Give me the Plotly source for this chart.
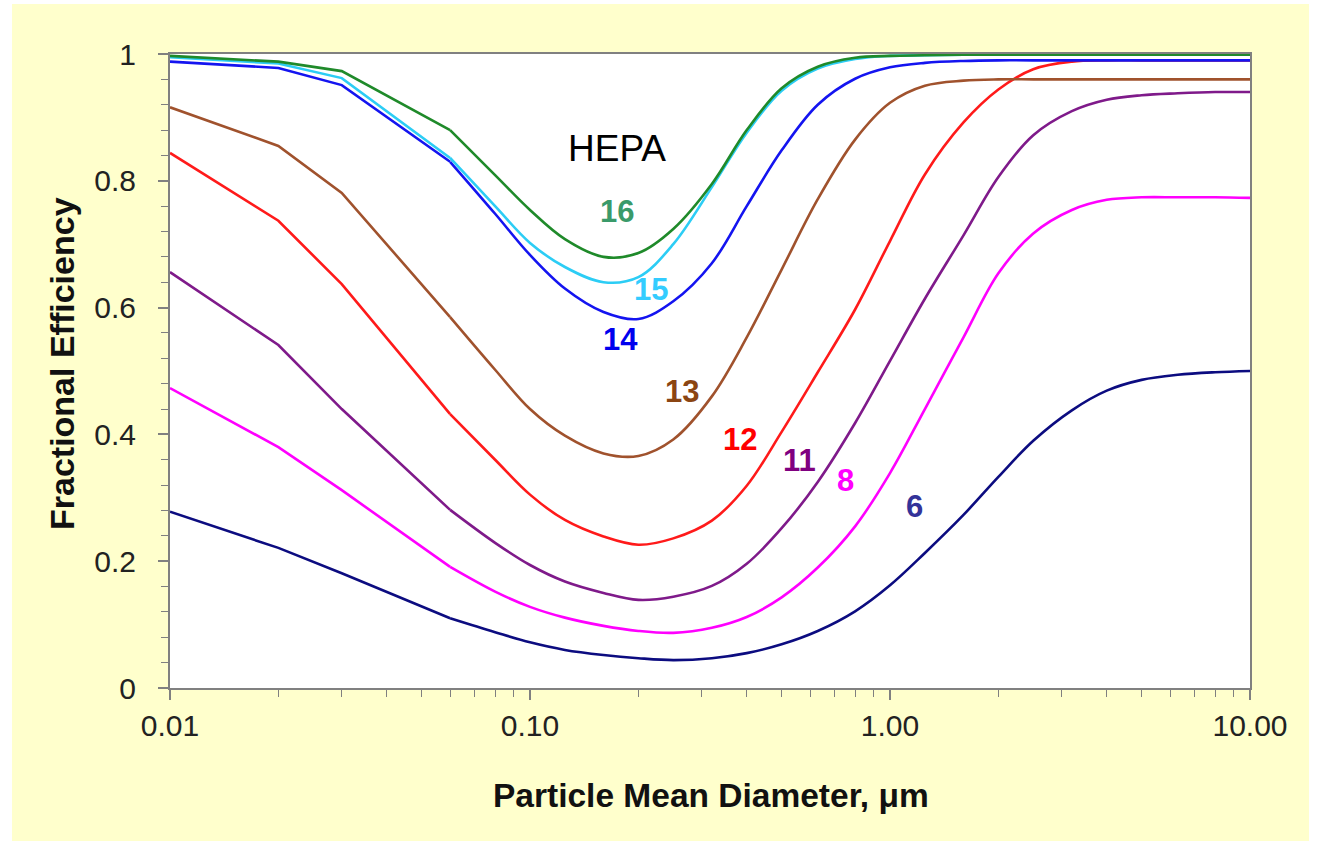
import plotly.graph_objects as go

# ---------------- data ----------------
diameter_um = [0.01, 0.02, 0.03, 0.06, 0.08, 0.1, 0.125, 0.16, 0.2, 0.25, 0.32, 0.4, 0.5,
               0.63, 0.8, 1.0, 1.25, 1.6, 2.0, 2.5, 3.2, 4.0, 5.0, 6.3, 8.0, 10.0]

eff_6 = [0.278, 0.221, 0.181, 0.110, 0.088, 0.072, 0.060, 0.052, 0.047, 0.044, 0.047, 0.055, 0.069,
         0.090, 0.121, 0.162, 0.213, 0.273, 0.333, 0.390, 0.438, 0.469, 0.486, 0.494, 0.498, 0.500]
eff_8 = [0.473, 0.380, 0.312, 0.191, 0.152, 0.128, 0.111, 0.098, 0.090, 0.087, 0.095, 0.112, 0.143,
         0.190, 0.255, 0.339, 0.440, 0.553, 0.654, 0.717, 0.754, 0.770, 0.774, 0.774, 0.774, 0.773]
eff_11 = [0.656, 0.541, 0.440, 0.281, 0.229, 0.194, 0.168, 0.150, 0.139, 0.144, 0.161, 0.196, 0.252,
          0.325, 0.418, 0.516, 0.614, 0.714, 0.806, 0.872, 0.910, 0.928, 0.935, 0.938, 0.940, 0.940]
eff_12 = [0.844, 0.737, 0.637, 0.432, 0.360, 0.305, 0.265, 0.239, 0.226, 0.236, 0.264, 0.319, 0.404,
          0.498, 0.597, 0.705, 0.810, 0.892, 0.944, 0.976, 0.988, 0.990, 0.990, 0.990, 0.990, 0.990]
eff_13 = [0.916, 0.855, 0.781, 0.585, 0.502, 0.440, 0.398, 0.370, 0.366, 0.392, 0.460, 0.553, 0.660,
          0.771, 0.865, 0.923, 0.950, 0.958, 0.960, 0.960, 0.960, 0.960, 0.960, 0.960, 0.960, 0.960]
eff_14 = [0.988, 0.978, 0.951, 0.830, 0.748, 0.683, 0.630, 0.593, 0.582, 0.610, 0.670, 0.760, 0.848,
          0.920, 0.961, 0.979, 0.986, 0.989, 0.990, 0.990, 0.990, 0.990, 0.990, 0.990, 0.990, 0.990]
eff_15 = [0.995, 0.985, 0.962, 0.836, 0.760, 0.702, 0.664, 0.640, 0.648, 0.700, 0.790, 0.876, 0.942,
          0.977, 0.992, 0.997, 0.998, 0.999, 0.999, 0.999, 0.999, 0.999, 0.999, 0.999, 0.999, 0.999]
eff_16 = [0.997, 0.988, 0.973, 0.880, 0.809, 0.754, 0.708, 0.680, 0.686, 0.724, 0.795, 0.880, 0.946,
          0.980, 0.994, 0.997, 0.998, 0.999, 0.999, 0.999, 0.999, 0.999, 0.999, 0.999, 0.999, 0.999]

series_names = ["6", "8", "11", "12", "13", "14", "15", "16"]
series_values = [eff_6, eff_8, eff_11, eff_12, eff_13, eff_14, eff_15, eff_16]

x_tick_vals = [0.01, 0.1, 1, 10]
x_tick_text = ["0.01", "0.10", "1.00", "10.00"]
y_tick_vals = [0, 0.2, 0.4, 0.6, 0.8, 1]
y_tick_text = ["0", "0.2", "0.4", "0.6", "0.8", "1"]

# ---------------- styling ----------------
line_colors = ["#0c0c80", "#ff00ff", "#7f1a8a", "#ff1a1a", "#a0522d", "#1414f0", "#2ccdf5", "#1f8a2a"]
label_colors = ["#333399", "#ff00ff", "#800080", "#ff0000", "#8b4513", "#0000ee", "#33ccff", "#3a9a6a"]
# label centres in paper coords
label_pos = [(0.6898, 0.2855), (0.625, 0.3265), (0.5833, 0.3596), (0.5278, 0.3927),
             (0.4741, 0.4669), (0.4167, 0.5489), (0.4454, 0.6278), (0.4139, 0.7508)]

FONT = "Liberation Sans, Arial, Helvetica, sans-serif"
SPLIT = 3  # straight segments up to 0.06 um, smooth curve afterwards

fig = go.Figure()
for name, vals, col in zip(series_names, series_values, line_colors):
    fig.add_trace(go.Scatter(x=diameter_um[:SPLIT + 1], y=vals[:SPLIT + 1], mode="lines", name=name,
                             line=dict(color=col, width=2.6), showlegend=False))
    fig.add_trace(go.Scatter(x=diameter_um[SPLIT:], y=vals[SPLIT:], mode="lines", name=name,
                             line=dict(color=col, width=2.6, shape="spline", smoothing=1.0),
                             showlegend=False))

annotations = []
for name, col, (ax, ay) in zip(series_names, label_colors, label_pos):
    annotations.append(dict(text=name, x=ax, y=ay, xref="paper", yref="paper",
                            showarrow=False, xanchor="center", yanchor="middle",
                            font=dict(family=FONT, size=31, color=col, weight="bold")))
annotations.append(dict(text="HEPA", x=0.4139, y=0.8517, xref="paper", yref="paper",
                        showarrow=False, xanchor="center", yanchor="middle",
                        font=dict(family=FONT, size=37, color="#000000")))
annotations.append(dict(text="Particle Mean Diameter, μm", x=(711 - 170) / 1080, y=(688 - 795) / 634,
                        xref="paper", yref="paper", showarrow=False, xanchor="center", yanchor="middle",
                        font=dict(family=FONT, size=33.5, color="#111111", weight="bold")))
annotations.append(dict(text="Fractional Efficiency", x=(62 - 170) / 1080, y=(688 - 364) / 634,
                        xref="paper", yref="paper", showarrow=False, xanchor="center", yanchor="middle",
                        textangle=-90,
                        font=dict(family=FONT, size=34, color="#111111", weight="bold")))

minor_x = []
for dec in [0.01, 0.1, 1]:
    for k in range(2, 10):
        minor_x.append(dec * k)

fig.update_layout(
    width=1319, height=844,
    margin=dict(l=170, r=69, t=54, b=156),
    paper_bgcolor="#ffffff",
    plot_bgcolor="#ffffff",
    font=dict(family=FONT, color="#222222"),
    annotations=annotations,
    shapes=[dict(type="rect", xref="paper", yref="paper",
                 x0=(12 - 170) / 1080, x1=(1309 - 170) / 1080,
                 y0=(688 - 841) / 634, y1=(688 - 4) / 634,
                 fillcolor="#ffffcc", line=dict(width=0), layer="below"),
            dict(type="rect", xref="paper", yref="paper", x0=0, x1=1, y0=0, y1=1,
                 fillcolor="#ffffff", line=dict(width=0), layer="below")],
    xaxis=dict(type="log", range=[-2, 1], tickvals=x_tick_vals, ticktext=x_tick_text,
               showgrid=False, zeroline=False, showline=True, linecolor="#808080", linewidth=2,
               mirror=True, ticks="outside", ticklen=10, tickwidth=1.5, tickcolor="#808080",
               tickfont=dict(family=FONT, size=30, color="#222222"),
               minor=dict(tickvals=minor_x, ticks="outside", ticklen=7, tickwidth=1.2,
                          tickcolor="#808080", showgrid=False)),
    yaxis=dict(range=[0, 1], tickvals=y_tick_vals, ticktext=y_tick_text,
               showgrid=False, zeroline=False, showline=True, linecolor="#808080", linewidth=2,
               mirror=True, ticks="outside", ticklen=10, tickwidth=1.5, tickcolor="#808080",
               ticklabelstandoff=16,
               tickfont=dict(family=FONT, size=30, color="#222222"),
               minor=dict(dtick=0.04, tick0=0, ticks="outside", ticklen=7, tickwidth=1.2,
                          tickcolor="#808080", showgrid=False)),
)

fig.write_html("out.html")
